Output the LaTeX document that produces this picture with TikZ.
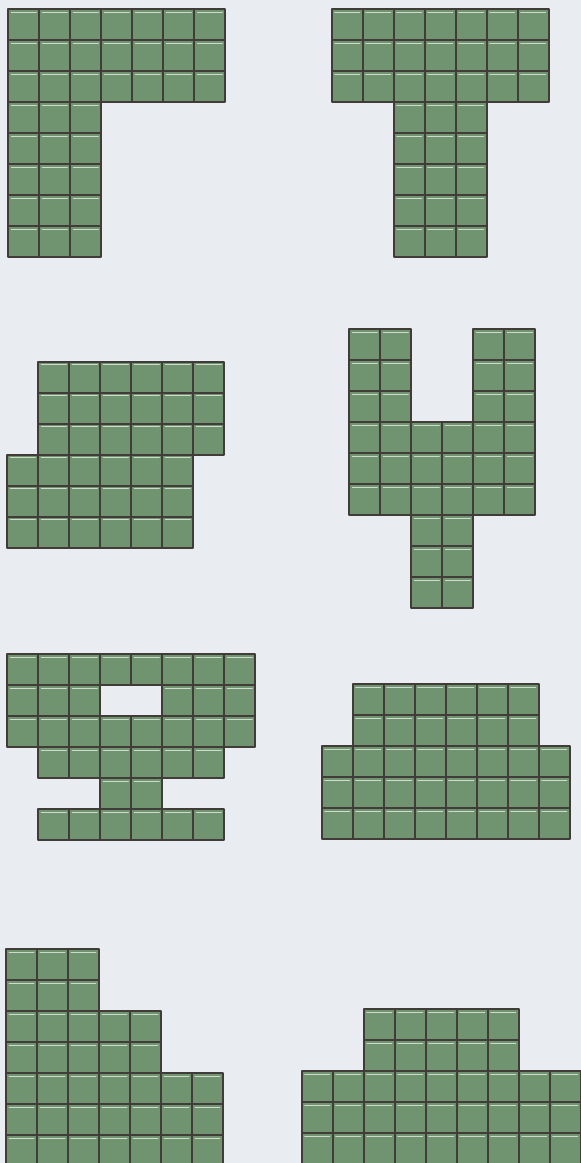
\documentclass[tikz,border=0pt]{standalone}
\usepackage{tikz}
\definecolor{tilegreen}{RGB}{112,148,112}
\definecolor{tileedge}{RGB}{66,60,56}
\definecolor{paper}{RGB}{233,236,240}
\tikzset{
 tile/.style={fill=tilegreen,draw=tileedge,line width=1.15pt},
 glint/.style={draw=white!65!tilegreen,line width=.45pt}
}
% one row of tiles: origin x, origin y, row, list of columns
\newcommand{\tilerow}[4]{%
 \foreach \c in {#4}{%
  \filldraw[tile] ({#1+31*\c},{#2+31*#3}) rectangle ++(31,31);
  \draw[glint] ({#1+31*\c+3},{#2+31*#3+3.2}) -- ++(25,0);
 }}

\begin{document}
\begin{tikzpicture}[x=.5pt,y=-.5pt,line cap=round,line join=round]
\fill[paper] (0,0) rectangle (581,1163);
\clip (0,0) rectangle (581,1163);
% L
\foreach \r in {0,...,2} \tilerow{8.3}{9.3}{\r}{0,...,6};
\foreach \r in {3,...,7} \tilerow{8.3}{9.3}{\r}{0,1,2};
% T
\foreach \r in {0,...,2} \tilerow{331.7}{9.3}{\r}{0,...,6};
\foreach \r in {3,...,7} \tilerow{331.7}{9.3}{\r}{2,3,4};
% shifted blocks
\foreach \r in {0,...,2} \tilerow{7.3}{361.7}{\r}{1,...,6};
\foreach \r in {3,...,5} \tilerow{7.3}{361.7}{\r}{0,...,5};
% fork
\foreach \r in {0,...,2} \tilerow{349.3}{329.3}{\r}{0,1,4,5};
\foreach \r in {3,...,5} \tilerow{349.3}{329.3}{\r}{0,...,5};
\foreach \r in {6,...,8} \tilerow{349.3}{329.3}{\r}{2,3};
% frame with a hole
\tilerow{7.3}{654.3}{0}{0,...,7}
\tilerow{7.3}{654.3}{1}{0,1,2,5,6,7}
\tilerow{7.3}{654.3}{2}{0,...,7}
\tilerow{7.3}{654.3}{3}{1,...,6}
\tilerow{7.3}{654.3}{4}{3,4}
\tilerow{7.3}{654.3}{5}{1,...,6}
% step up
\foreach \r in {0,1} \tilerow{321.7}{684.3}{\r}{1,...,6};
\foreach \r in {2,3,4} \tilerow{321.7}{684.3}{\r}{0,...,7};
% stairs
\foreach \r in {0,1} \tilerow{6}{949}{\r}{0,1,2};
\foreach \r in {2,3} \tilerow{6}{949}{\r}{0,...,4};
\foreach \r in {4,5,6} \tilerow{6}{949}{\r}{0,...,6};
% wide base
\foreach \r in {0,1} \tilerow{301.7}{1009.3}{\r}{2,...,6};
\foreach \r in {2,3,4} \tilerow{301.7}{1009.3}{\r}{0,...,8};
\end{tikzpicture}
\end{document}
